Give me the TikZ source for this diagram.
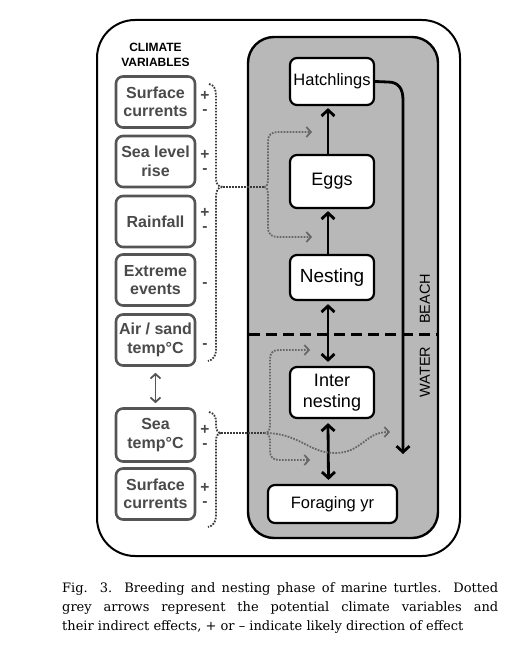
\documentclass[tikz,border=0pt]{standalone}
\usepackage{fontspec}
\setmainfont{DejaVu Serif}
\setsansfont{Liberation Sans}
\usetikzlibrary{arrows.meta}
\definecolor{lgrey}{HTML}{555555}
\definecolor{ltext}{HTML}{4A4A4A}
\definecolor{panel}{HTML}{B8B8B8}
\definecolor{dotc}{HTML}{666666}
\definecolor{bracec}{HTML}{3A3A3A}
\tikzset{
  lbox/.style={draw=lgrey, line width=2.6pt, rounded corners=7pt, minimum width=79pt, fill=white,
    font=\sffamily\bfseries\fontsize{16}{18.5}\selectfont, text=ltext, align=center, inner sep=0pt},
  rbox/.style={draw=black, line width=2.2pt, rounded corners=7pt, minimum width=84pt, fill=white,
    font=\sffamily\fontsize{18}{21}\selectfont, align=center, inner sep=0pt},
  sign/.style={font=\sffamily\bfseries\fontsize{15.5}{14}\selectfont, text=ltext, inner sep=0pt,
    text height=5pt, text depth=0pt},
  dotpat/.style={dash pattern=on 1.7pt off 1.3pt},
  bracepath/.style={draw=bracec, line width=1.8pt, dotpat},
  dotarrow/.style={draw=dotc, line width=1.8pt, dotpat, -{Straight Barb[length=4.5pt,width=10pt,line width=1.7pt,sep=0pt]}},
  btip/.tip={Straight Barb[length=6pt,width=13pt,line width=2.8pt]},
  flow/.style={draw=black, line width=2.8pt, -btip},
  flowboth/.style={draw=black, line width=2.8pt, btip-btip},
}
\begin{document}
\begin{tikzpicture}[x=1pt,y=-1pt]
\useasboundingbox (0,0) rectangle (516,655);
% outer frame
\draw[line width=2pt, rounded corners=38pt] (97,20) rectangle (460,556);
% grey panel
\draw[line width=2.4pt, fill=panel, rounded corners=26pt] (248,37) rectangle (438,538);
% dashed beach/water line
\draw[line width=3pt, dash pattern=on 11pt off 6pt] (249,334) -- (437,334);
\node[font=\sffamily\fontsize{14.5}{14}\selectfont, rotate=90] (beach) at (425,299) {BEACH};
\node[font=\sffamily\fontsize{14.5}{14}\selectfont, rotate=90] (water) at (425,372) {WATER};

% climate header
\node[font=\sffamily\bfseries\fontsize{12}{14.5}\selectfont, align=center] (hdr) at (155.5,55) {CLIMATE\\VARIABLES};

% left boxes
\node[lbox, minimum height=51pt] (sc1) at (155.5,102) {Surface\\currents};
\node[lbox, minimum height=51pt] (slr) at (155.5,161.5) {Sea level\\rise};
\node[lbox, minimum height=51pt] (rain) at (155.5,221.5) {Rainfall};
\node[lbox, minimum height=51pt] (ext) at (155.5,280) {Extreme\\events};
\node[lbox, minimum height=51pt] (air) at (155.5,340) {Air / sand\\temp\textdegree C};
\node[lbox, minimum height=53pt] (sea) at (155.5,435) {Sea\\temp\textdegree C};
\node[lbox, minimum height=51pt] (sc2) at (155.5,494) {Surface\\currents};
\draw[draw=lgrey, line width=1.8pt, {Straight Barb[length=4.5pt,width=10pt,line width=1.8pt]}-{Straight Barb[length=4.5pt,width=10pt,line width=1.8pt]}] ([yshift=-6pt]air.south) -- ([yshift=4pt]sea.north);

% signs
\node[sign] (p1) at (205,98) {+};  \node[sign] (m1) at (205,112) {-};
\node[sign] (p2) at (205,157) {+}; \node[sign] (m2) at (205,171) {-};
\node[sign] (p3) at (205,215) {+}; \node[sign] (m3) at (205,229) {-};
\node[sign] (m4) at (205,285) {-};
\node[sign] (m5) at (205,346) {-};
\node[sign] (p6) at (205,432) {+}; \node[sign] (m6) at (205,446) {-};
\node[sign] (p7) at (205,490) {+}; \node[sign] (m7) at (205,504) {-};

% right boxes
\node[rbox, minimum height=47pt, font=\sffamily\fontsize{16.5}{20}\selectfont] (hatch) at (332,81.5) {Hatchlings};
\node[rbox, minimum height=53pt] (eggs) at (332,181.5) {Eggs};
\node[rbox, minimum height=45pt, font=\sffamily\fontsize{19}{21}\selectfont] (nest) at (332,277.5) {Nesting};
\node[rbox, minimum height=51pt] (inter) at (332,392.5) {Inter\\nesting};
\node[rbox, minimum height=38pt, minimum width=129pt, font=\sffamily\fontsize{16.5}{20}\selectfont] (forage) at (332.5,504) {Foraging yr};

% flow arrows
\draw[flow] ([xshift=-4pt]eggs.north) -- ([xshift=-4pt,yshift=-2pt]hatch.south);
\draw[flow] ([xshift=-4pt]nest.north) -- ([xshift=-4pt,yshift=-2pt]eggs.south);
\draw[flowboth] ([xshift=-4pt,yshift=-3pt]nest.south) -- ([xshift=-4pt,yshift=4pt]inter.north);
\draw[flowboth] ([xshift=-4pt,yshift=-4pt]inter.south) -- ([xshift=-4pt,yshift=4pt]forage.north);
\coordinate (hend) at (403,454);
\draw[flow] (hatch.east) -- (388,82) .. controls (398,82) and (403,88) .. (403,100) -- (hend);

% brace 1
\coordinate (b1top) at (209,84);
\coordinate (b1tip) at (223,187);
\coordinate (b1bot) at (208,361);
\coordinate (j1) at (264,187);
\coordinate (t1a) at (312,132);
\coordinate (t1b) at (312,237);
\draw[bracepath] (b1top) .. controls (214,85) and (216,89) .. (216,96) -- (216,178)
   .. controls (216,184) and (218,187) .. (b1tip)
   .. controls (218,187) and (216,190) .. (216,197) -- (216,350)
   .. controls (216,356) and (213,360) .. (b1bot);
\draw[bracepath] (b1tip) -- (j1);
\draw[dotarrow] (j1) .. controls (268,187) and (268,183) .. (268,176) -- (268,142)
   .. controls (268,135) and (271,132) .. (278,132) -- (t1a);
\draw[dotarrow] (j1) .. controls (268,187) and (268,191) .. (268,198) -- (268,227)
   .. controls (268,234) and (271,237) .. (278,237) -- (t1b);

% brace 2
\coordinate (b2top) at (209,412);
\coordinate (b2tip) at (221,433);
\coordinate (b2bot) at (208,527);
\coordinate (j2) at (264,433);
\coordinate (t2a) at (310,350);
\coordinate (t2b) at (310,460);
\coordinate (t2c) at (390,432);
\draw[bracepath] (b2top) .. controls (214,413) and (216,417) .. (216,422) -- (216,426)
   .. controls (216,430) and (218,433) .. (b2tip)
   .. controls (218,433) and (216,436) .. (216,441) -- (216,516)
   .. controls (216,522) and (213,526) .. (b2bot);
\draw[bracepath] (b2tip) -- (j2);
\draw[dotarrow] (j2) .. controls (269,433) and (270,430) .. (270,424) -- (270,359)
   .. controls (270,353) and (273,350) .. (279,350) -- (t2a);
\draw[dotarrow] (j2) .. controls (269,433) and (270,436) .. (270,442) -- (270,451)
   .. controls (270,457) and (273,460) .. (279,460) -- (t2b);
\draw[dotarrow] (j2) .. controls (300,433) and (308,453) .. (335,453)
   .. controls (362,453) and (365,432) .. (t2c);

% caption
\node[text width=436pt, inner sep=0pt, anchor=north west, font=\fontsize{13}{19}\selectfont, align=justify] (cap) at (62,582)
 {\parfillskip=0pt Fig. 3. Breeding and nesting phase of marine turtles. Dotted\linebreak
 grey arrows represent the potential climate variables and\linebreak
 their indirect effects, + or \textendash{} indicate likely direction of effect};
\end{tikzpicture}
\end{document}
